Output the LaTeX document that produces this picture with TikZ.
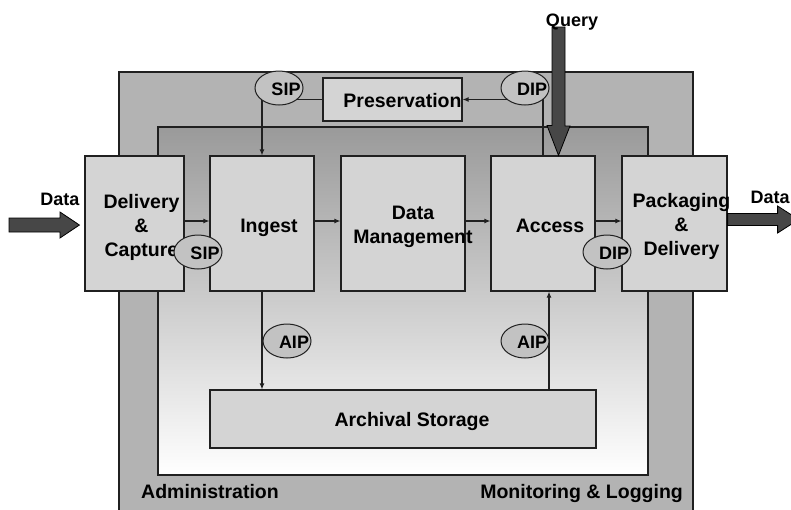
\documentclass[tikz,border=0pt]{standalone}
\usepackage{fontspec}
\setmainfont{Liberation Sans}
\usetikzlibrary{arrows.meta,calc,shapes.geometric}
\definecolor{frame}{HTML}{B3B3B3}
\definecolor{inner}{HTML}{9A9A9A}
\definecolor{boxc}{HTML}{D4D4D4}
\definecolor{pkg}{HTML}{C2C2C2}
\definecolor{fat}{HTML}{474747}
\definecolor{edge}{HTML}{202020}
\tikzset{
  blk/.style={draw=edge, line width=1.2pt, fill=boxc},
  txt/.style={font=\fontsize{19.5}{24}\selectfont\bfseries, align=center, inner sep=0pt},
  ptxt/.style={font=\fontsize{18}{20}\selectfont\bfseries, inner sep=0pt},
  pkgball/.style={ellipse, draw=edge, line width=1pt, fill=pkg, minimum width=48pt, minimum height=34pt, inner sep=0pt},
  flow/.style={-{Latex[length=6pt,width=5pt]}, line width=1.1pt, draw=edge},
  fatarr/.style={fill=fat, draw=black, line width=0.8pt}
}

\begin{document}
\begin{tikzpicture}[x=1pt, y=-1pt]
  \clip (0,0) rectangle (791,509);

  % administration frame and inner area
  \draw[fill=frame, draw=edge, line width=1.2pt] (119,72) rectangle (693,520);
  \draw[top color=inner, bottom color=white, draw=edge, line width=1.2pt] (158,127) rectangle (648,475);

  % functional blocks
  \node[blk, minimum width=99pt, minimum height=135pt] (cap) at (134.5,223.5) {};
  \node[blk, minimum width=104pt, minimum height=135pt] (ingest) at (262,223.5) {};
  \node[blk, minimum width=124pt, minimum height=135pt] (dm) at (403,223.5) {};
  \node[blk, minimum width=104pt, minimum height=135pt] (access) at (543,223.5) {};
  \node[blk, minimum width=105pt, minimum height=135pt] (pack) at (674.5,223.5) {};
  \node[blk, minimum width=139pt, minimum height=43pt] (pres) at (392.5,99.5) {};
  \node[blk, minimum width=386pt, minimum height=58pt] (arch) at (403,419) {};

  \node[txt] (captxt) at ([xshift=7pt,yshift=-3.5pt]cap.center) {Delivery\\\&\\Capture};
  \node[txt] (ingtxt) at ([xshift=7pt,yshift=-4.5pt]ingest.center) {Ingest};
  \node[txt] (dmtxt) at ([xshift=10pt,yshift=-3.5pt]dm.center) {Data\\Management};
  \node[txt] (acctxt) at ([xshift=7pt,yshift=-2.5pt]access.center) {Access};
  \node[txt] (packtxt) at ([xshift=7pt,yshift=-2.5pt]pack.center) {Packaging\\\&\\Delivery};
  \node[txt] (prestxt) at ([xshift=10pt,yshift=-1.5pt]pres.center) {Preservation};
  \node[txt] (archtxt) at ([xshift=9pt,yshift=-2pt]arch.center) {Archival Storage};

  % package flows
  \draw[flow] ([yshift=2.5pt]cap.east) -- ([yshift=2.5pt]ingest.west);
  \draw[flow] ([yshift=2.5pt]ingest.east) -- ([yshift=2.5pt]dm.west);
  \draw[flow] ([yshift=2.5pt]dm.east) -- ([yshift=2.5pt]access.west);
  \draw[flow] ([yshift=2.5pt]access.east) -- ([yshift=2.5pt]pack.west);
  \draw[flow] (ingest.south) -- (ingest.south |- arch.north);
  \draw[flow] ([xshift=6pt]access.south |- arch.north) -- ([xshift=6pt]access.south);
  \draw[flow] (pres.west) -| (ingest.north);
  \draw[flow] (access.north) |- (pres.east);

  % information packages
  \node[pkgball] (sipa) at (279,88) {};
  \node[pkgball] (dipa) at (525,88) {};
  \node[pkgball] (sipb) at (198,252) {};
  \node[pkgball] (dipb) at (607,252) {};
  \node[pkgball] (aipa) at (287,341) {};
  \node[pkgball] (aipb) at (525,341) {};
  \node[ptxt] (sipatxt) at ([xshift=7pt,yshift=-1.5pt]sipa.center) {SIP};
  \node[ptxt] (dipatxt) at ([xshift=7pt,yshift=-1.5pt]dipa.center) {DIP};
  \node[ptxt] (sipbtxt) at ([xshift=7pt,yshift=-1.5pt]sipb.center) {SIP};
  \node[ptxt] (dipbtxt) at ([xshift=7pt,yshift=-1.5pt]dipb.center) {DIP};
  \node[ptxt] (aipatxt) at ([xshift=7pt,yshift=-1pt]aipa.center) {AIP};
  \node[ptxt] (aipbtxt) at ([xshift=7pt,yshift=-1pt]aipb.center) {AIP};

  % big arrows
  \coordinate (din) at (9,225);
  \coordinate (dtip) at ([xshift=-5pt,yshift=-1.5pt]cap.west);
  \draw[fatarr] (din) ++(0,-7) -- ++(51,0) -- ++(0,-6) -- (dtip) -- (60,238) -- ++(0,-6) -- ++(-51,0) -- cycle;
  \coordinate (dout) at ([yshift=4pt]pack.east);
  \draw[fatarr] (dout) ++(0,-6) -- ++(50,0) -- ++(0,-7.5) -- ++(21,13.5) -- ++(-21,13.5) -- ++(0,-7.5) -- ++(-50,0) -- cycle;
  \coordinate (qtop) at (558.5,27);
  \coordinate (qtip) at ([xshift=15.5pt]access.north);
  \draw[fatarr] (qtop) ++(-6.5,0) -- ++(13,0) -- ++(0,99) -- ++(5,0) -- (qtip) -- ($(qtip)+(-11.5,-30)$) -- ++(5,0) -- cycle;

  % outer labels
  \node[ptxt, anchor=base] (qlbl) at (572,26) {Query};
  \node[ptxt, anchor=base] (dinlbl) at (60,205) {Data};
  \node[ptxt, anchor=base] (doutlbl) at (770,203) {Data};
  \node[txt, anchor=base west] (admlbl) at (141,498) {Administration};
  \node[txt, anchor=base east] (monlbl) at (683,498) {Monitoring \& Logging};
\end{tikzpicture}
\end{document}
